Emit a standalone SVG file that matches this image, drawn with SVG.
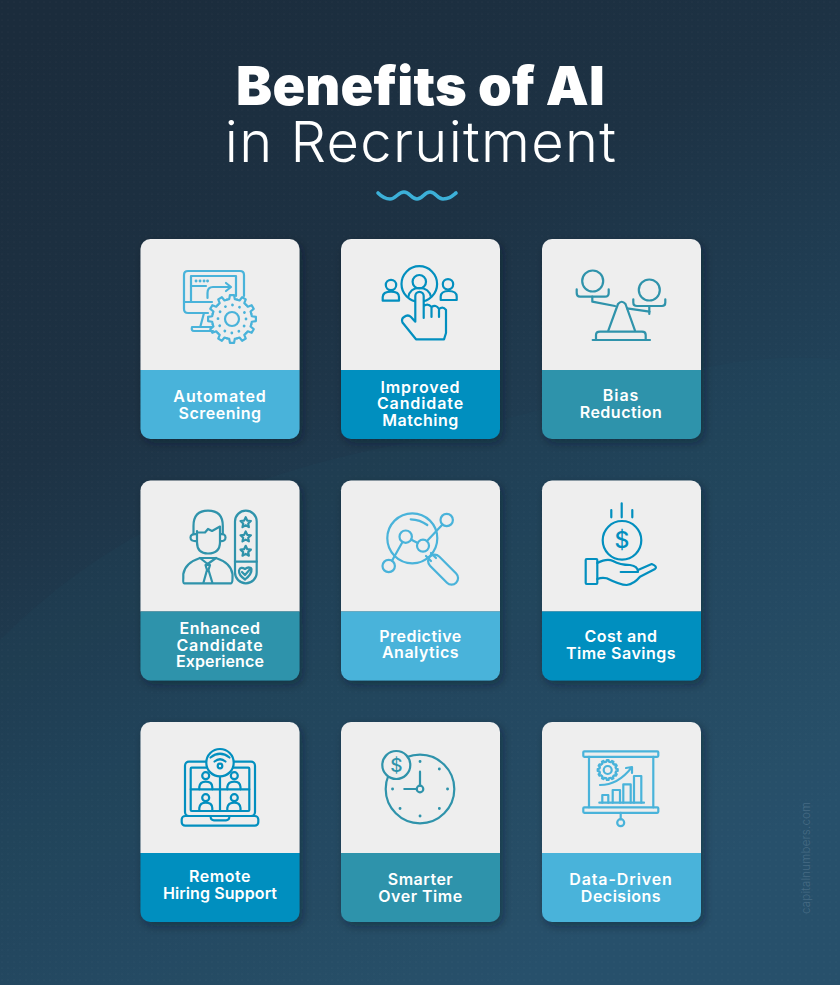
<svg xmlns="http://www.w3.org/2000/svg" width="840" height="985" viewBox="0 0 840 985">
<style>
.t1{font-family:Inter,"Liberation Sans",sans-serif;font-weight:900;font-size:54px;letter-spacing:.2px;fill:#fff;text-anchor:middle}
.t2{font-family:Inter,"Liberation Sans",sans-serif;font-weight:300;font-size:56px;letter-spacing:1.3px;fill:#fff;text-anchor:middle}
.l{font-family:Inter,"Liberation Sans",sans-serif;font-weight:600;font-size:16px;letter-spacing:.9px;fill:#fff;text-anchor:middle}
.n{letter-spacing:.5px}
.m{letter-spacing:.1px}
.top{fill:#eee}
.a{fill:#49b3da}.b{fill:#028fbf}.c{fill:#2f93ab}
.ic{fill:none;stroke-width:2.2;stroke-linecap:round;stroke-linejoin:round}
.ia{stroke:#49b3da}.ib{stroke:#028fbf}.ic2{stroke:#2f93ab}
.bgf{fill:#eee}
.dot{stroke-width:2.8}
.d{font-family:Inter,"Liberation Sans",sans-serif;font-weight:500;text-anchor:middle;stroke:none}
</style>
<defs>
<linearGradient id="bg" x1="0.12" y1="0" x2="0.6" y2="1">
<stop offset="0" stop-color="#1b2c3c"/><stop offset="0.35" stop-color="#1d3244"/><stop offset="0.65" stop-color="#214259"/><stop offset="1" stop-color="#28506b"/>
</linearGradient>
<pattern id="dots" width="6" height="6" patternUnits="userSpaceOnUse"><circle cx="2" cy="2" r=".6" fill="#fff" opacity=".05"/></pattern>
<filter id="sh" x="-15%" y="-15%" width="130%" height="130%"><feDropShadow dx="3" dy="4" stdDeviation="5" flood-color="#0d1a26" flood-opacity=".4"/></filter>
<path id="cardTop" d="M0 131V10A10 10 0 0 1 10 0H149A10 10 0 0 1 159 10V131Z"/>
<path id="cardBot" d="M0 131H159V190A10 10 0 0 1 149 200H10A10 10 0 0 1 0 190Z"/>
<path id="tooth" d="M-5.18-19.32L-2.78-19.81L-2.09-23.9L2.09-23.9L2.78-19.81L5.18-19.32"/>
<g id="gear"><use href="#tooth"/><use href="#tooth" transform="rotate(30)"/><use href="#tooth" transform="rotate(60)"/><use href="#tooth" transform="rotate(90)"/><use href="#tooth" transform="rotate(120)"/><use href="#tooth" transform="rotate(150)"/><use href="#tooth" transform="rotate(180)"/><use href="#tooth" transform="rotate(210)"/><use href="#tooth" transform="rotate(240)"/><use href="#tooth" transform="rotate(270)"/><use href="#tooth" transform="rotate(300)"/><use href="#tooth" transform="rotate(330)"/></g>
<path id="star" d="M0-5.5L1.6-2.1L5.2-1.7L2.5 .8L3.2 4.4L0 2.6L-3.2 4.4L-2.5 .8L-5.2-1.7L-1.6-2.1Z"/>
</defs>
<rect width="840" height="985" fill="url(#bg)"/>
<path d="M0 985V640C120 520 260 470 420 440C600 400 720 345 840 360V985Z" fill="#2a5470" opacity=".1"/>
<rect width="840" height="985" fill="url(#dots)"/>

<g id="title">
<text class="t1" x="420.500" y="105">Benefits of AI</text>
<text class="t2" x="421" y="162">in Recruitment</text>
<path d="M378 193Q384 199 390 199C396 199 398 192 404 192S411 199 417 199S424 192 430 192S437 199 443 199S451 197 456 193" fill="none" stroke="#3cb0d8" stroke-width="3.6" stroke-linecap="round"/>
</g>

<g id="card-automated-screening">
<g transform="translate(140.5 239)" filter="url(#sh)"><use href="#cardTop" class="top"/><use href="#cardBot" class="a"/></g>
<g class="ic ia">
<path d="M208 313H188Q184 313 184 309V275Q184 271 188 271H240Q244 271 244 275V296"/>
<path d="M191 302V276H236V296M184 302H212"/>
<path d="M191 286H206"/>
<path class="dot" d="M196 281H196.1M200 281H200.1M204 281H204.1M207.5 281H207.6"/>
<path d="M207.5 298V293Q207.5 287 213 287H231M226 283L231 287L226 291"/>
<path d="M204 313L200.5 326M213 331H194Q191 331 192 327H212"/>
<circle cx="232" cy="319" r="20.5" class="bgf" stroke="none"/>
<use href="#gear" transform="translate(232 319)"/>
<circle cx="232" cy="319" r="7"/>
<circle cx="232" cy="319" r="14" class="dot" stroke-dasharray="0.01 7.33"/>
</g>
<text class="l" x="220" y="401.5">Automated</text><text class="l n" x="220" y="418.5">Screening</text>
</g>

<g id="card-improved-candidate-matching">
<g transform="translate(341 239)" filter="url(#sh)"><use href="#cardTop" class="top"/><use href="#cardBot" class="b"/></g>
<g class="ic ib">
<circle cx="419.3" cy="284" r="17.8"/>
<circle cx="419.3" cy="281.7" r="6.7"/>
<path d="M408.3 297Q410 288 419.3 288Q429 288 431 297"/>
<circle cx="391" cy="285" r="5.2"/><path d="M382.7 300.7V297Q383 291.7 391 291.7Q399 291.7 399 297V300.7Z"/>
<circle cx="448" cy="284.3" r="5.2"/><path d="M440.7 300V296.5Q441 291 448.5 291Q456.7 291 456.7 296.5V300Z"/>
<path class="bgf" d="M415.3 321.7V296A4.2 4.2 0 0 1 423.7 296V318M423.7 306Q428 303 431.5 307V317M431.5 307Q436 304 439 309V317M439 309Q443 306 446 310V333L444 339.3H416L402.5 322.5Q401 319 404 317Q408 314 411 317L415.3 321.7"/>
</g>
<text class="l" x="420.5" y="392.5">Improved</text><text class="l" x="420.5" y="409">Candidate</text><text class="l n" x="420.5" y="426">Matching</text>
</g>

<g id="card-bias-reduction">
<g transform="translate(542 239)" filter="url(#sh)"><use href="#cardTop" class="top"/><use href="#cardBot" class="c"/></g>
<g class="ic ic2">
<circle cx="592.7" cy="281" r="10.5"/>
<path d="M576.7 289.3V293Q576.7 296.7 580 296.7H605Q608.7 296.7 608.7 293V289.3"/>
<path d="M592.3 296.7V301.7L615 306M627 308.3L649.5 311.7"/>
<circle cx="649.3" cy="290" r="10.5"/>
<path d="M633.3 299.3V302.5Q633.3 306 637 306H662Q665.3 306 665.3 302.5V299.3"/>
<path d="M649.3 306V314"/>
<path d="M608.3 330.7L618 304Q621.7 299.5 625.5 304L635 330.7"/>
<path d="M596 340V335Q596 331.7 600 331.7H642Q645.7 331.7 645.7 335V340"/>
<path d="M592.7 340H650"/>
</g>
<text class="l" x="621" y="401">Bias</text><text class="l n" x="621" y="418">Reduction</text>
</g>

<g id="card-enhanced-candidate-experience">
<g transform="translate(140.5 480.5)" filter="url(#sh)"><use href="#cardTop" class="top"/><use href="#cardBot" class="c"/></g>
<g class="ic ic2">
<path d="M193.5 534V526Q193.5 510.7 208 510.7Q222.8 510.7 222.8 526V534"/>
<path d="M197 531V542Q197 553.5 208 553.5Q220 553.5 220 542V526.5L212 531L208 529L205 532.5H197"/>
<path d="M196.5 534.2Q190.5 533.5 190.5 537.5Q190.5 541.5 196.5 541M220 534.2Q225.5 533.5 225.5 537.5Q225.5 541.5 220 541"/>
<path d="M184 583.3Q183 583 183.3 578V574Q185 563 200 558H216Q231 563 232.5 574V578Q232.5 583 231 583.3Z"/>
<path d="M200 558L207.7 564L216 558M205.5 565H210L208.5 570L212.3 582.5M205.5 565L207 570L203.5 582.5"/>
<rect x="235" y="510.7" width="21.7" height="72.6" rx="10.8"/>
<path d="M235 561.7H256.7"/>
<use href="#star" x="245.7" y="522.7"/><use href="#star" x="245.7" y="537"/><use href="#star" x="245.7" y="551.3"/>
<path d="M245 579.5Q238.5 575 239 570.5Q240.5 566 245 569Q249 566 251.5 569Q252 574 245 579.5M242 572L245 575L251 568"/>
</g>
<text class="l n" x="220" y="633.5">Enhanced</text><text class="l" x="220" y="650.5">Candidate</text><text class="l m" x="220" y="667">Experience</text>
</g>

<g id="card-predictive-analytics">
<g transform="translate(341 480.5)" filter="url(#sh)"><use href="#cardTop" class="top"/><use href="#cardBot" class="a"/></g>
<g class="ic ia">
<circle cx="412.3" cy="538.3" r="25"/>
<path d="M410.7 519.3Q420 519.5 427.3 525"/>
<path d="M426 556L431 561M431 553L436 558"/>
<rect x="0" y="-6.5" width="37" height="13" rx="6.5" transform="translate(430 556.5) rotate(45)"/>
<circle cx="388.7" cy="566" r="6.2"/><circle cx="405.7" cy="536.7" r="6.2"/><circle cx="423" cy="545.7" r="6"/><circle cx="446.7" cy="520" r="6.2"/>
<path d="M392 560.7L402.5 542M411 539.5L417.7 543M427 541L442.5 524.5"/>
</g>
<text class="l n" x="420.5" y="641.5">Predictive</text><text class="l n" x="420.5" y="658">Analytics</text>
</g>

<g id="card-cost-and-time-savings">
<g transform="translate(542 480.5)" filter="url(#sh)"><use href="#cardTop" class="top"/><use href="#cardBot" class="b"/></g>
<g class="ic ib">
<path d="M621.7 503.3V517.3M611.3 510V517.3M632.3 510V517.3"/>
<circle cx="622" cy="540.3" r="19.3"/>
<rect x="585.7" y="559" width="11.6" height="25" rx="1"/>
<path d="M597.3 563Q607 558 613 561Q620 565 630 565Q638 566 638 572H620.7"/>
<path d="M597.3 579Q602 577 606.7 578.3Q620 585 626.7 585Q634 584 640 576.7L655 569Q658 566.5 651.7 564L638 570"/>
<text class="d" x="622" y="548" font-size="23" fill="#028fbf">$</text>
</g>
<text class="l n" x="621" y="642">Cost and</text><text class="l n" x="621" y="659">Time Savings</text>
</g>

<g id="card-remote-hiring-support">
<g transform="translate(140.5 722)" filter="url(#sh)"><use href="#cardTop" class="top"/><use href="#cardBot" class="b"/></g>
<g class="ic ib">
<rect x="185" y="761.7" width="70" height="54.3" rx="4"/>
<rect x="190.7" y="767.7" width="58.6" height="43.3" rx="1"/>
<path d="M220 775V811M190.7 789.3H249.3"/>
<rect x="181.7" y="816" width="76.6" height="9.7" rx="3.5"/>
<path d="M210.7 817.5Q211 820.3 214 820.3H226Q229 820.3 229.3 817.5"/>
<circle cx="205.7" cy="775.7" r="3.5"/><circle cx="234.3" cy="775.7" r="3.5"/><circle cx="205.7" cy="797.7" r="3.5"/><circle cx="234.3" cy="797.7" r="3.5"/>
<path d="M199.3 789.3V787Q200 781.7 205.7 781.7Q212 781.7 212.3 787V789.3M227.3 789.3V787Q228 781.7 234.3 781.7Q240 781.7 240.5 787V789.3M199.3 811V808Q200 802.7 205.7 802.7Q212 802.7 212.3 808V811M227.3 811V808Q228 802.7 234.3 802.7Q240 802.7 240.5 808V811"/>
<circle cx="220" cy="762.7" r="13.7" class="bgf"/>
<circle cx="220" cy="766" r="2.3"/>
<path d="M214.5 761.5Q220 757 225.5 761.5M210.5 757.5Q220 750 229.5 757.5"/>
</g>
<text class="l n" x="220" y="882">Remote</text><text class="l m" x="220" y="899">Hiring Support</text>
</g>

<g id="card-smarter-over-time">
<g transform="translate(341 722)" filter="url(#sh)"><use href="#cardTop" class="top"/><use href="#cardBot" class="c"/></g>
<g class="ic ic2">
<circle cx="420" cy="789" r="34.3"/>
<circle cx="420" cy="789" r="3.3"/>
<path d="M420 771.7V785.7M404.3 789H416.7"/>
<path class="dot" d="M420 761.5H420.1M439.3 769H439.4M447.5 789H447.6M439.3 808.5H439.4M420 816H420.1M400 808.5H400.1M392.5 789H392.6"/>
<circle cx="396.3" cy="765" r="14" class="bgf"/>
<text class="d" x="396.3" y="772" font-size="19" fill="#2f93ab">$</text>
</g>
<text class="l n" x="420.5" y="885">Smarter</text><text class="l n" x="420.5" y="902">Over Time</text>
</g>

<g id="card-data-driven-decisions">
<g transform="translate(542 722)" filter="url(#sh)"><use href="#cardTop" class="top"/><use href="#cardBot" class="a"/></g>
<g class="ic ia">
<rect x="583.3" y="751.3" width="75" height="5.5" rx="1"/>
<rect x="583.3" y="807.3" width="75" height="5.5" rx="1"/>
<path d="M589 756.8V807.3M653.3 756.8V807.3"/>
<use href="#gear" transform="translate(607.7 770) scale(.42)" stroke-width="5"/>
<circle cx="607.7" cy="770" r="4"/>
<path d="M600 785Q618 785 631.7 767.3M626 768L632 767L632 773"/>
<path d="M599.3 802.7H644"/>
<path d="M602.3 802.7V795H608.3V802.7M612.7 802.7V790H620V802.7M623.3 802.7V784.3H630.7V802.7M634 802.7V776H641.3V802.7"/>
<path d="M620.7 812.8V819.3"/>
<circle cx="620.7" cy="822.7" r="3.5"/>
</g>
<text class="l" x="621" y="885">Data-Driven</text><text class="l n" x="621" y="902">Decisions</text>
</g>

<text id="watermark" transform="translate(810 914) rotate(-90)" font-family="Inter,'Liberation Sans',sans-serif" font-size="11.5" font-weight="300" letter-spacing=".2" fill="#456a83">capitalnumbers.com</text>
</svg>
